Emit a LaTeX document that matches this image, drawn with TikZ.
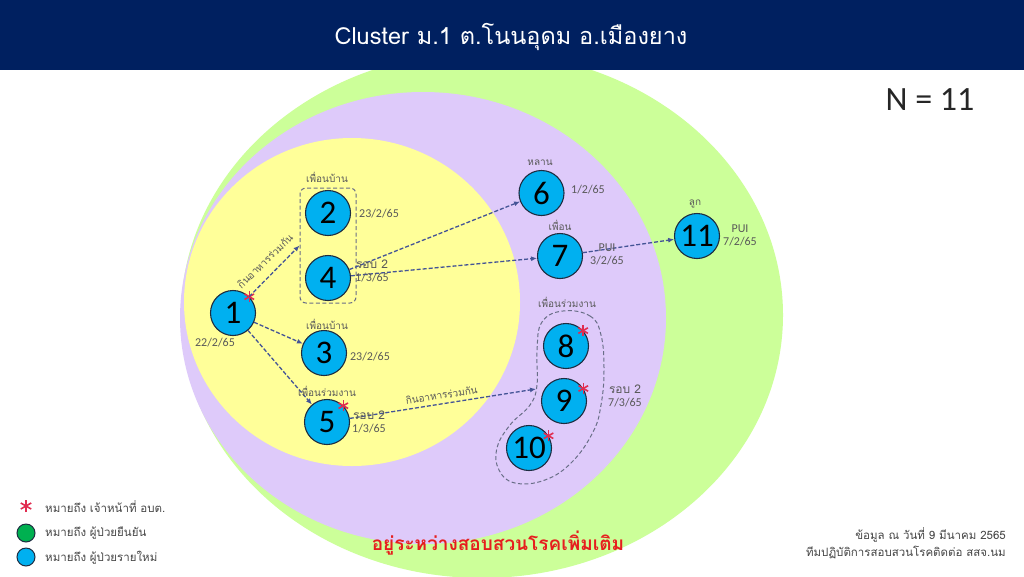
\documentclass[tikz,border=0pt]{standalone}
\usepackage{fontspec}
\setmainfont{Carlito}
\newfontfamily\thaifont[Script=Thai]{Loma}
\usetikzlibrary{arrows.meta}
\definecolor{navy}{RGB}{0,32,96}
\definecolor{caseblue}{RGB}{0,176,240}
\definecolor{casedraw}{RGB}{30,45,65}
\definecolor{confirmgreen}{RGB}{0,176,80}
\definecolor{ringgreen}{RGB}{204,255,153}
\definecolor{ringpurple}{RGB}{222,202,250}
\definecolor{ringyellow}{RGB}{255,255,153}
\definecolor{linkblue}{RGB}{68,84,150}
\definecolor{groupgray}{RGB}{105,110,135}
\definecolor{notegray}{RGB}{89,89,89}
\definecolor{officerred}{RGB}{225,45,80}
\definecolor{alertred}{RGB}{230,30,30}

\begin{document}
\begin{tikzpicture}[x=1pt, y=-1pt,
  case/.style={circle, draw=casedraw, line width=1.1pt, fill=caseblue, minimum size=45pt, inner sep=0pt, font=\fontsize{33}{33}\selectfont},
  note/.style={text=notegray, font=\thaifont\fontsize{10}{12}\selectfont, inner sep=1pt},
  date/.style={text=notegray, font=\fontsize{12}{13}\selectfont, inner sep=1pt, align=center},
  key/.style={text=notegray!80!black, font=\thaifont\fontsize{11.5}{12}\selectfont, anchor=west, inner sep=1pt},
  link/.style={draw=linkblue, line width=1.3pt, dash pattern=on 4pt off 2pt, -{Latex[length=6pt,width=5pt]}},
  group/.style={draw=groupgray, line width=1pt, dash pattern=on 4pt off 2.5pt},
  officer/.pic={\foreach \a in {90,30,150} \draw[officerred, line width=1.6pt] (\a:5.5) -- (\a+180:5.5);}]
\useasboundingbox (0,0) rectangle (1024,576);
\fill[white] (0,0) rectangle (1024,576);

\fill[ringgreen] (482,315) ellipse [x radius=301, y radius=263];
\fill[ringpurple] (423,318) ellipse [x radius=243, y radius=226];
\fill[ringyellow] (352,302) ellipse [x radius=168, y radius=164];

\fill[navy] (0,0) rectangle (1024,70);
\node[white, font=\thaifont\fontsize{23.5}{26}\selectfont] (title) at (511,37) {Cluster ม.1 ต.โนนอุดม อ.เมืองยาง};
\node[text=black!85, font=\fontsize{34}{36}\selectfont] (total) at (930,100) {N = 11};

\node[group, rectangle, rounded corners=6pt, minimum width=56pt, minimum height=115pt] (pair) at (328,245.5) {};
\draw[group] plot[smooth cycle, tension=0.7] coordinates {(563,311) (590,316) (601,335) (604,370) (601,405) (593,432) (572,462) (545,480) (515,483) (499,470) (497,448) (510,425) (530,405) (537,385) (537,350) (542,322)};

\node[case] (n1) at (233,313) {1};
\node[case] (n2) at (328,213) {2};
\node[case] (n4) at (328,278) {4};
\node[case] (n3) at (324,353) {3};
\node[case] (n5) at (327,422) {5};
\node[case] (n6) at (541.5,193) {6};
\node[case] (n7) at (560,256) {7};
\node[case] (n8) at (566,346) {8};
\node[case] (n9) at (564,401) {9};
\node[case] (n10) at (529,448) {10};
\node[case] (n11) at (697,236) {11};
\coordinate (mealend) at (536,389);

\pic at (n1.45) {officer};
\pic at (n5.45) {officer};
\pic at (n8.42) {officer};
\pic at (n9.33) {officer};
\pic at (n10.32) {officer};

\draw[link] (n1) -- (pair.west);
\node[note, rotate=44] (meal1) at (265,261) {กินอาหารร่วมกัน};
\draw[link] (n1) -- (n3);
\draw[link] (n1) -- (n5);
\draw[link] (n4) -- (n6);
\draw[link] (n4) -- (n7);
\draw[link] (n7) -- (n11);
\draw[link] (n5) -- (mealend) node[note, pos=0.5, sloped, above=3pt] (meal5) {กินอาหารร่วมกัน};

\node[note] (tag2) at (327,177) {เพื่อนบ้าน};
\node[note] (tag3) at (327,324) {เพื่อนบ้าน};
\node[note] (tag5) at (327,391) {เพื่อนร่วมงาน};
\node[note] (tag6) at (540,163) {หลาน};
\node[note] (tag7) at (560,225) {เพื่อน};
\node[note] (tag8) at (567,302) {เพื่อนร่วมงาน};
\node[note] (tag11) at (695,204) {ลูก};

\node[date] (day1) at (215,343) {22/2/65};
\node[date] (day2) at (379,214) {23/2/65};
\node[date] (day3) at (370,357) {23/2/65};
\node[date] (day4) at (372,271) {{\thaifont รอบ 2}\\1/3/65};
\node[date] (day5) at (369,422) {{\thaifont รอบ 2}\\1/3/65};
\node[date] (day6) at (588,190) {1/2/65};
\node[date] (day7) at (607,254) {PUI\\3/2/65};
\node[date] (day9) at (625,396) {{\thaifont รอบ 2}\\7/3/65};
\node[date] (day11) at (740,235) {PUI\\7/2/65};

\node[text=alertred, font=\thaifont\bfseries\fontsize{19}{20}\selectfont] (pending) at (498,543) {อยู่ระหว่างสอบสวนโรคเพิ่มเติม};

\pic[scale=1.1] at (26,506) {officer};
\node[circle, draw=casedraw, line width=1pt, fill=confirmgreen, minimum size=18pt, inner sep=0pt] (keyconf) at (26,533) {};
\node[circle, draw=casedraw, line width=1pt, fill=caseblue, minimum size=18pt, inner sep=0pt] (keynew) at (26,557) {};
\node[key] (keytxt1) at (44,507) {หมายถึง เจ้าหน้าที่ อบต.};
\node[key] (keytxt2) at (44,533) {หมายถึง ผู้ป่วยยืนยัน};
\node[key] (keytxt3) at (44,558) {หมายถึง ผู้ป่วยรายใหม่};

\node[key, anchor=east, align=right, font=\thaifont\fontsize{11.5}{17}\selectfont] (source) at (1007,543) {ข้อมูล ณ วันที่ 9 มีนาคม 2565\\ทีมปฏิบัติการสอบสวนโรคติดต่อ สสจ.นม};
\end{tikzpicture}
\end{document}
